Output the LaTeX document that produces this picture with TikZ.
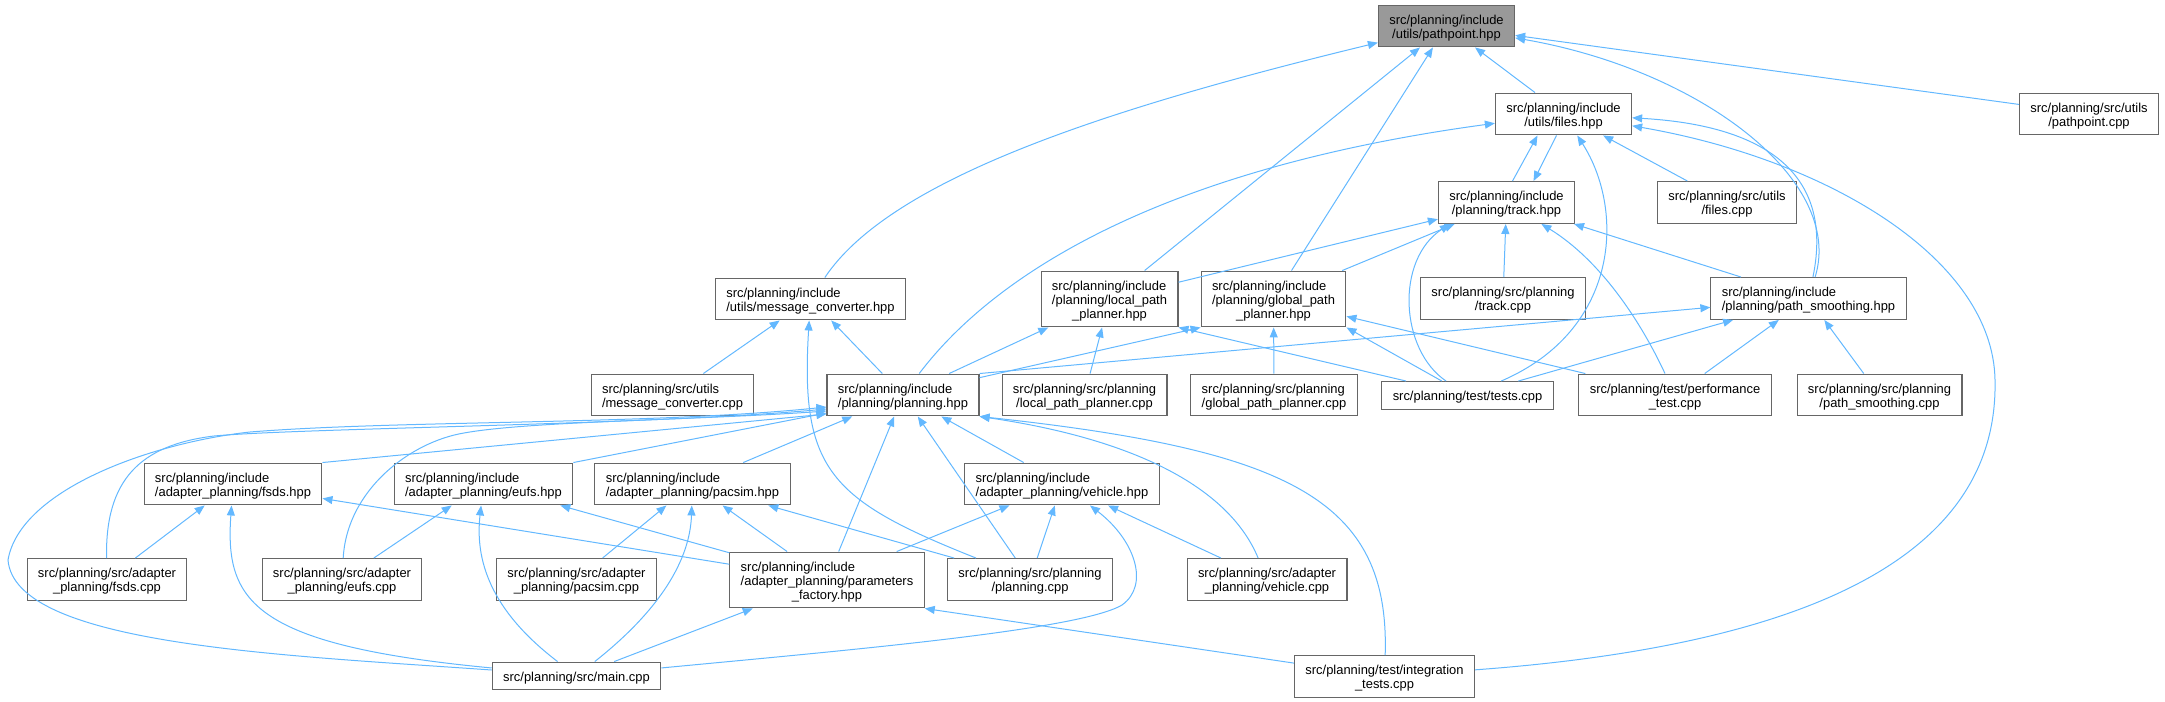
\documentclass[tikz,border=0pt]{standalone}
\usepackage{fontspec}
\setmainfont{Liberation Sans}
\usetikzlibrary{arrows.meta, calc}
\definecolor{boxgray}{HTML}{666666}
\definecolor{rootgray}{HTML}{999999}
\definecolor{linkblue}{HTML}{63B8FF}
\newcommand{\flab}[2]{\raisebox{-2pt}[\height][\depth]{\begin{tabular}{@{}l@{}}#1\\\multicolumn{1}{@{}c@{}}{#2}\end{tabular}}}
\newcommand{\slab}[1]{\raisebox{-2pt}[\height][\depth]{\strut #1}}
\tikzset{
  filebox/.style={draw=boxgray, fill=white, line width=0.8pt, inner xsep=8.2pt, inner ysep=5.2pt,
    font=\fontsize{9.7}{10.5}\selectfont},
  rootbox/.style={filebox, fill=rootgray},
  incl/.style={draw=linkblue, line width=0.75pt, -{Triangle[length=7.5pt,width=6pt]}},
}

\begin{document}
\begin{tikzpicture}[x=0.75pt, y=-0.75pt]
  \useasboundingbox (0,0) rectangle (2165,702);
  \node[rootbox] (pathpointH) at (1446.5,26) {\flab{src/planning/include}{/utils/pathpoint.hpp}};
  \node[filebox] (filesH) at (1563.5,114) {\flab{src/planning/include}{/utils/files.hpp}};
  \node[filebox] (pathpointC) at (2089,114) {\flab{src/planning/src/utils}{/pathpoint.cpp}};
  \node[filebox] (trackH) at (1506.5,202.5) {\flab{src/planning/include}{/planning/track.hpp}};
  \node[filebox] (filesC) at (1727,202.5) {\flab{src/planning/src/utils}{/files.cpp}};
  \node[filebox] (localH) at (1109.5,299) {\flab{src/planning/include\\/planning/local\_path}{\_planner.hpp}};
  \node[filebox] (globalH) at (1273.5,299) {\flab{src/planning/include\\/planning/global\_path}{\_planner.hpp}};
  \node[filebox] (trackC) at (1503,298.5) {\flab{src/planning/src/planning}{/track.cpp}};
  \node[filebox] (smoothH) at (1808.5,298.5) {\flab{src/planning/include}{/planning/path\_smoothing.hpp}};
  \node[filebox] (msgH) at (810.5,299) {\flab{src/planning/include}{/utils/message\_converter.hpp}};
  \node[filebox] (msgC) at (672.5,395) {\flab{src/planning/src/utils}{/message\_converter.cpp}};
  \node[filebox] (planningH) at (903,395) {\flab{src/planning/include}{/planning/planning.hpp}};
  \node[filebox] (localC) at (1084.5,395) {\flab{src/planning/src/planning}{/local\_path\_planner.cpp}};
  \node[filebox] (globalC) at (1274,395) {\flab{src/planning/src/planning}{/global\_path\_planner.cpp}};
  \node[filebox] (testsC) at (1467.5,395.5) {\slab{src/planning/test/tests.cpp}};
  \node[filebox] (perfC) at (1675,395) {\flab{src/planning/test/performance}{\_test.cpp}};
  \node[filebox] (smoothC) at (1879.5,395) {\flab{src/planning/src/planning}{/path\_smoothing.cpp}};
  \node[filebox] (fsdsH) at (233,484) {\flab{src/planning/include}{/adapter\_planning/fsds.hpp}};
  \node[filebox] (eufsH) at (483.5,484) {\flab{src/planning/include}{/adapter\_planning/eufs.hpp}};
  \node[filebox] (pacsimH) at (692.5,484) {\flab{src/planning/include}{/adapter\_planning/pacsim.hpp}};
  \node[filebox] (vehicleH) at (1062,484) {\flab{src/planning/include}{/adapter\_planning/vehicle.hpp}};
  \node[filebox] (fsdsC) at (107,579.5) {\flab{src/planning/src/adapter}{\_planning/fsds.cpp}};
  \node[filebox] (eufsC) at (342,579.5) {\flab{src/planning/src/adapter}{\_planning/eufs.cpp}};
  \node[filebox] (pacsimC) at (576.5,579.5) {\flab{src/planning/src/adapter}{\_planning/pacsim.cpp}};
  \node[filebox] (factoryH) at (827,580) {\flab{src/planning/include\\/adapter\_planning/parameters}{\_factory.hpp}};
  \node[filebox] (planningC) at (1030,579.5) {\flab{src/planning/src/planning}{/planning.cpp}};
  \node[filebox] (vehicleC) at (1267,579.5) {\flab{src/planning/src/adapter}{\_planning/vehicle.cpp}};
  \node[filebox] (mainC) at (576.5,676) {\slab{src/planning/src/main.cpp}};
  \node[filebox] (integC) at (1384.5,676.5) {\flab{src/planning/test/integration}{\_tests.cpp}};

  \draw[incl] (filesH) -- (pathpointH);
  \draw[incl] (localH) -- (pathpointH);
  \draw[incl] (globalH) -- (pathpointH);
  \draw[incl] (pathpointC) -- (pathpointH);
  \draw[incl] (msgH) .. controls (890,180) and (1100,110) .. (pathpointH);
  \draw[incl] (smoothH) .. controls (1845,180) and (1700,70) .. (pathpointH);

  \draw[incl] ($(trackH.north)+(6,0)$) -- ($(filesH.south)+(-26,0)$);
  \draw[incl] ($(filesH.south)+(-7,0)$) -- ($(trackH.north)+(27,0)$);
  \draw[incl] (filesC) -- (filesH);
  \draw[incl] (planningH) .. controls (990,280) and (1150,170) .. (filesH);
  \draw[incl] (testsC) .. controls (1620,330) and (1625,210) .. (filesH);
  \draw[incl] (smoothH) .. controls (1835,170) and (1760,125) .. (filesH);
  \draw[incl] (integC) .. controls (1880,640) and (1998,520) .. (1995,380)
    .. controls (1993,260) and (1830,160) .. (filesH);

  \draw[incl] (localH) -- (trackH);
  \draw[incl] (globalH) -- (trackH);
  \draw[incl] (trackC) -- (trackH);
  \draw[incl] (smoothH) -- (trackH);
  \draw[incl] (testsC) .. controls (1400,350) and (1395,260) .. ($(trackH.south west)+(12,0)$);
  \draw[incl] (perfC) .. controls (1640,320) and (1600,260) .. (trackH);

  \draw[incl] (planningH) -- (localH);
  \draw[incl] (localC) -- (localH);
  \draw[incl] (testsC) -- (localH.south east);
  \draw[incl] (planningH) -- (globalH.south west);
  \draw[incl] (globalC) -- (globalH);
  \draw[incl] (testsC) -- (globalH.south east);
  \draw[incl] (perfC) -- (globalH);

  \draw[incl] (planningH.north east) -- (smoothH);
  \draw[incl] (testsC) -- (smoothH);
  \draw[incl] (perfC) -- (smoothH);
  \draw[incl] (smoothC) -- (smoothH);

  \draw[incl] (msgC) -- (msgH);
  \draw[incl] (planningH) -- (msgH);
  \draw[incl] (planningC) .. controls (830,500) and (800,470) .. (msgH);

  \draw[incl] (fsdsH.north east) -- ($(planningH.west)+(0,19)$);
  \draw[incl] (eufsH.north east) -- ($(planningH.west)+(0,18)$);
  \draw[incl] (pacsimH) -- (planningH);
  \draw[incl] (vehicleH) -- (planningH);
  \draw[incl] (factoryH) -- (planningH);
  \draw[incl] (planningC) -- (planningH);
  \draw[incl] (fsdsC) .. controls (105,480) and (140,445) .. (214,436)
    .. controls (300,428) and (650,425) .. ($(planningH.west)+(0,14)$);
  \draw[incl] (eufsC) .. controls (347,490) and (410,442) .. (464,433)
    .. controls (530,421) and (700,420) .. ($(planningH.west)+(0,16)$);
  \draw[incl] (mainC) .. controls (280,655) and (15,645) .. (8,560)
    .. controls (20,490) and (150,443) .. (250,432)
    .. controls (400,420) and (650,425) .. ($(planningH.west)+(0,12)$);
  \draw[incl] (vehicleC) .. controls (1230,490) and (1140,440) .. (planningH.south east);
  \draw[incl] (integC) .. controls (1390,500) and (1290,450) .. (planningH.south east);

  \draw[incl] (fsdsC) -- (fsdsH);
  \draw[incl] (factoryH) -- (fsdsH);
  \draw[incl] (mainC) .. controls (250,645) and (225,600) .. (fsdsH);
  \draw[incl] (eufsC) -- (eufsH);
  \draw[incl] (factoryH) -- (eufsH);
  \draw[incl] (mainC) .. controls (490,610) and (475,560) .. (eufsH);
  \draw[incl] (pacsimC) -- (pacsimH);
  \draw[incl] (factoryH) -- (pacsimH);
  \draw[incl] (planningC) -- (pacsimH);
  \draw[incl] (mainC) .. controls (660,610) and (690,560) .. (pacsimH);
  \draw[incl] (factoryH) -- (vehicleH);
  \draw[incl] (planningC) -- (vehicleH);
  \draw[incl] (vehicleC) -- (vehicleH);
  \draw[incl] (mainC) .. controls (850,650) and (1080,630) .. (1122,605)
    .. controls (1150,585) and (1135,540) .. (vehicleH);

  \draw[incl] (mainC) -- (factoryH);
  \draw[incl] (integC) -- (factoryH.south east);
\end{tikzpicture}
\end{document}
